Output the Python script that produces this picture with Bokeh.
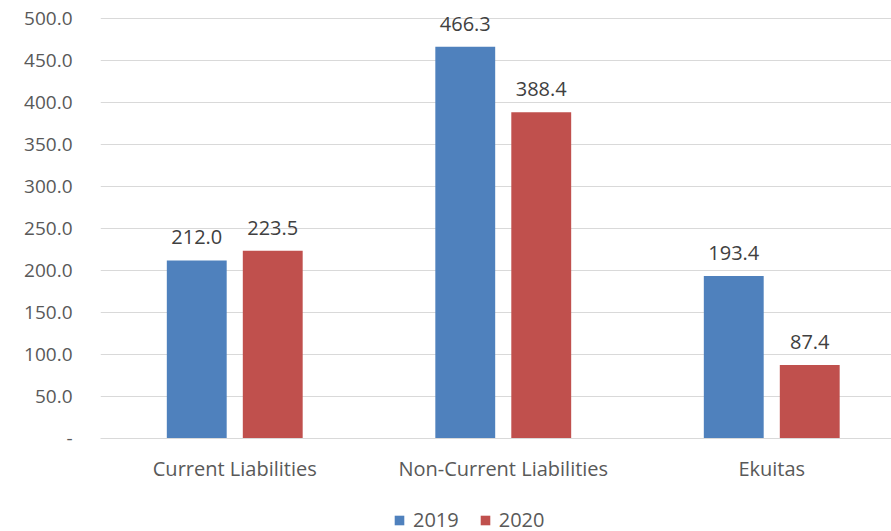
from bokeh.plotting import figure
from bokeh.layouts import column
from bokeh.models import ColumnDataSource, FixedTicker, Legend, LegendItem, Range1d
from bokeh.transform import dodge
from bokeh.core.properties import value
from bokeh.embed import file_html
from bokeh.resources import INLINE

categories = ["Current Liabilities", "Non-Current Liabilities", "Ekuitas"]
values_2019 = [212.0, 466.3, 193.4]
values_2020 = [223.5, 388.4, 87.4]
series_names = ["2019", "2020"]
y_ticks = [0, 50, 100, 150, 200, 250, 300, 350, 400, 450, 500]

FONT = "Open Sans"
BLUE = "#4F81BD"
RED = "#C0504D"
colors = [BLUE, RED]

xpos = [i + 0.5 for i in range(len(categories))]
src = ColumnDataSource(dict(
    x=xpos,
    v19=values_2019,
    v20=values_2020,
    l19=[f"{v:.1f}" for v in values_2019],
    l20=[f"{v:.1f}" for v in values_2020],
))

p = figure(width=891, height=495, output_backend="svg",
           toolbar_location=None, min_border_left=100, min_border_right=0,
           min_border_top=0, min_border_bottom=57)
p.x_range = Range1d(0, 2.946)
p.y_range = Range1d(0, 500 * 438 / 420)
p.outline_line_color = None
p.background_fill_color = "white"
p.border_fill_color = "white"

off = 0.1415
w = 0.223
p.vbar(x=dodge("x", -off), top="v19", width=w, source=src,
       fill_color=BLUE, line_color=None)
p.vbar(x=dodge("x", off), top="v20", width=w, source=src,
       fill_color=RED, line_color=None)

for col, lab, d in (("v19", "l19", -off), ("v20", "l20", off)):
    p.text(x=dodge("x", d), y=col, text=lab, source=src,
           text_align="center", text_baseline="bottom", y_offset=-16,
           text_font=value(FONT), text_font_size="20px", text_color="#404040")

# y axis
p.yaxis.ticker = FixedTicker(ticks=y_ticks)
p.yaxis.major_label_overrides = {t: ("-" if t == 0 else f"{t:.1f}") for t in y_ticks}
p.yaxis.axis_line_color = None
p.yaxis.major_tick_line_color = None
p.yaxis.minor_tick_line_color = None
p.yaxis.major_tick_out = 0
p.yaxis.major_tick_in = 0
p.yaxis.major_label_standoff = 28
p.yaxis.major_label_text_font = FONT
p.yaxis.major_label_text_font_size = "19px"
p.yaxis.major_label_text_color = "#595959"

# x axis
p.xaxis.ticker = FixedTicker(ticks=xpos)
p.xaxis.major_label_overrides = {x: c for x, c in zip(xpos, categories)}
p.xaxis.axis_line_color = "#D9D9D9"
p.xaxis.major_tick_line_color = None
p.xaxis.minor_tick_line_color = None
p.xaxis.major_tick_out = 0
p.xaxis.major_tick_in = 0
p.xaxis.major_label_standoff = 16
p.xaxis.major_label_text_font = FONT
p.xaxis.major_label_text_font_size = "20px"
p.xaxis.major_label_text_color = "#595959"

p.xgrid.grid_line_color = None
p.ygrid.grid_line_color = "#D9D9D9"
p.ygrid.grid_line_width = 1

# legend strip below the chart (its frame is aligned with the chart frame)
lg = figure(width=891, height=36, output_backend="svg", toolbar_location=None,
            min_border=0, x_axis_location=None, y_axis_location=None,
            x_range=Range1d(0, 1), y_range=Range1d(0, 1))
lg.outline_line_color = None
lg.xgrid.grid_line_color = None
lg.ygrid.grid_line_color = None
items = []
for name, c in zip(series_names, colors):
    # zero-height proxy bar: nothing visible, only feeds the legend swatch
    r = lg.vbar(x=[0.5], top=[0], bottom=[0], width=0.0, fill_color=c, line_color=None)
    items.append(LegendItem(label=name, renderers=[r]))
legend = Legend(items=items, orientation="horizontal", location=(293, -2),
                label_text_font=FONT, label_text_font_size="20px",
                label_text_color="#595959", glyph_width=12, glyph_height=12,
                spacing=20, label_standoff=8, border_line_color=None,
                background_fill_alpha=0, margin=0, padding=0, label_height=20)
lg.add_layout(legend, "center")

layout = column(p, lg, spacing=0)
open("out.html", "w").write(file_html(layout, INLINE))
